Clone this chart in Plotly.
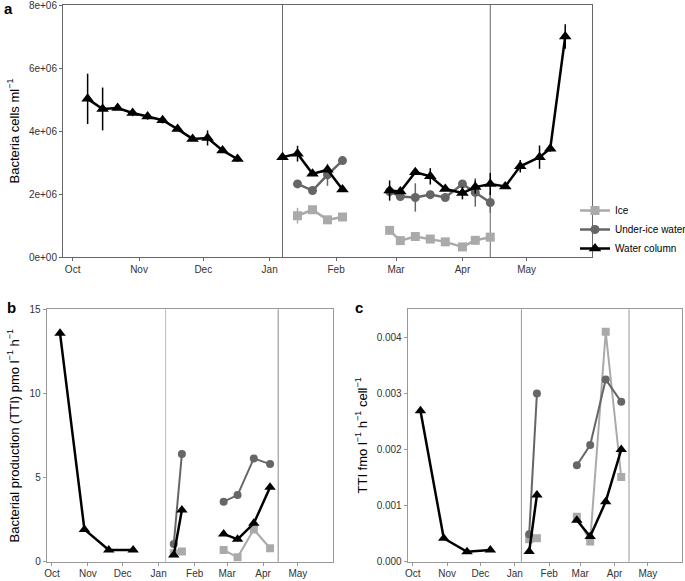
import plotly.graph_objects as go

# ---------------- Data ----------------
SERIES = ["Ice", "Under-ice water", "Water column"]

# Panel a: bacteria abundance (cells ml^-1)
a_wc_dates = ["2012-10-08", "2012-10-15", "2012-10-22", "2012-10-29", "2012-11-05", "2012-11-12",
              "2012-11-19", "2012-11-26", "2012-12-03", "2012-12-10", "2012-12-17",
              "2013-01-07", "2013-01-14", "2013-01-21", "2013-01-28", "2013-02-04",
              "2013-02-26", "2013-03-03", "2013-03-10", "2013-03-17", "2013-03-24", "2013-04-01",
              "2013-04-07", "2013-04-14", "2013-04-21", "2013-04-28", "2013-05-07", "2013-05-12",
              "2013-05-19"]
a_wc_vals = [5.02e6, 4.70e6, 4.73e6, 4.57e6, 4.46e6, 4.34e6, 4.06e6, 3.75e6, 3.78e6, 3.38e6, 3.11e6,
             3.17e6, 3.28e6, 2.64e6, 2.77e6, 2.14e6,
             2.11e6, 2.08e6, 2.69e6, 2.56e6, 2.16e6, 2.03e6, 2.22e6, 2.32e6, 2.24e6, 2.88e6,
             3.17e6, 3.44e6, 7.00e6]
a_wc_err = [0.80e6, 0.68e6, 0.06e6, 0.10e6, 0.10e6, 0.10e6, 0.06e6, 0.06e6, 0.24e6, 0.08e6, 0.08e6,
            0.05e6, 0.25e6, 0.05e6, 0.05e6, 0.05e6,
            0.32e6, 0.05e6, 0.05e6, 0.26e6, 0.05e6, 0.20e6, 0.21e6, 0.35e6, 0.05e6, 0.20e6,
            0.37e6, 0.10e6, 0.39e6]
a_wc_seg = [1] * 11 + [2] * 5 + [3] * 13

a_ui_dates = ["2013-01-14", "2013-01-21", "2013-01-28", "2013-02-04",
              "2013-02-26", "2013-03-03", "2013-03-10", "2013-03-17", "2013-03-24", "2013-04-01",
              "2013-04-07", "2013-04-14"]
a_ui_vals = [2.32e6, 2.11e6, 2.61e6, 3.06e6,
             2.08e6, 1.92e6, 1.89e6, 1.98e6, 1.89e6, 2.32e6, 2.05e6, 1.73e6]
a_ui_err = [0.08e6, 0.05e6, 0.35e6, 0.05e6,
            0.15e6, 0.05e6, 0.45e6, 0.05e6, 0.05e6, 0.08e6, 0.45e6, 0.32e6]
a_ui_seg = [2] * 4 + [3] * 8

a_ice_dates = a_ui_dates
a_ice_vals = [1.31e6, 1.50e6, 1.18e6, 1.27e6,
              0.845e6, 0.52e6, 0.65e6, 0.57e6, 0.48e6, 0.32e6, 0.53e6, 0.63e6]
a_ice_err = [0.25e6, 0.05e6, 0.05e6, 0.05e6,
             0.05e6, 0.05e6, 0.05e6, 0.05e6, 0.05e6, 0.05e6, 0.05e6, 0.05e6]
a_ice_seg = a_ui_seg

# Panel b: bacterial production (TTI) pmol l^-1 h^-1
b_wc_dates = ["2012-10-08", "2012-10-29", "2012-11-19", "2012-12-10",
              "2013-01-14", "2013-01-21",
              "2013-02-26", "2013-03-10", "2013-03-24", "2013-04-07"]
b_wc_vals = [13.57, 1.92, 0.70, 0.70, 0.40, 3.07, 1.65, 1.33, 2.28, 4.42]
b_wc_seg = [1, 1, 1, 1, 2, 2, 3, 3, 3, 3]

b_ui_dates = ["2013-01-14", "2013-01-21", "2013-02-26", "2013-03-10", "2013-03-24", "2013-04-07"]
b_ui_vals = [1.05, 6.40, 3.57, 3.96, 6.14, 5.80]
b_ui_seg = [2, 2, 3, 3, 3, 3]

b_ice_dates = b_ui_dates
b_ice_vals = [0.50, 0.60, 0.70, 0.26, 1.92, 0.80]
b_ice_seg = b_ui_seg

# Panel c: TTI fmol l^-1 h^-1 cell^-1
c_wc_dates = b_wc_dates
c_wc_vals = [0.00269, 0.000417, 0.000178, 0.000209, 0.00018, 0.00119, 0.00074, 0.00045, 0.00107, 0.00200]
c_wc_seg = b_wc_seg

c_ui_dates = b_ui_dates
c_ui_vals = [0.00049, 0.00300, 0.00172, 0.00208, 0.00325, 0.00285]
c_ui_seg = b_ui_seg

c_ice_dates = b_ui_dates
c_ice_vals = [0.00040, 0.00042, 0.00080, 0.00036, 0.00410, 0.00151]
c_ice_seg = b_ui_seg

# Reference dates (vertical lines)
vline_dates = ["2013-01-07", "2013-04-14"]

# Axis ticks
a_yticks = [0, 2e6, 4e6, 6e6, 8e6]
a_yticktext = ["0e+00", "2e+06", "4e+06", "6e+06", "8e+06"]
b_yticks = [0, 5, 10, 15]
c_yticks = [0, 0.001, 0.002, 0.003, 0.004]
c_yticktext = ["0.000", "0.001", "0.002", "0.003", "0.004"]

# ---------------- Styles ----------------
COLORS = {"Ice": "#aaaaaa", "Under-ice water": "#666666", "Water column": "#000000"}
SYMBOLS = {"Ice": "square", "Under-ice water": "circle", "Water column": "triangle-up"}
MSIZE = {"Ice": 9, "Under-ice water": 9, "Water column": 11}
W, H = 685, 581
FONT = "Liberation Sans, Arial, sans-serif"


def with_breaks(dates, vals, segs, errs=None):
    xs, ys, es = [], [], []
    for i, (d, v, s) in enumerate(zip(dates, vals, segs)):
        if i > 0 and s != segs[i - 1]:
            xs.append(None)
            ys.append(None)
            es.append(None)
        xs.append(d)
        ys.append(v)
        es.append(errs[i] if errs is not None else None)
    return xs, ys, es


fig = go.Figure()


def add_series(name, dates, vals, segs, xa, ya, errs=None, lw=2.5, showlegend=False, msize=None):
    xs, ys, es = with_breaks(dates, vals, segs, errs)
    kw = {}
    if errs is not None:
        kw["error_y"] = dict(type="data", array=es, symmetric=True, color=COLORS[name],
                             thickness=1.5, width=0)
    fig.add_trace(go.Scatter(
        x=xs, y=ys, mode="lines+markers", name=name, legendgroup=name,
        showlegend=showlegend, connectgaps=False, xaxis=xa, yaxis=ya,
        line=dict(color=COLORS[name], width=lw),
        marker=dict(symbol=SYMBOLS[name], color=COLORS[name], size=msize or MSIZE[name],
                    line=dict(width=0)),
        **kw))


# Panel a
add_series("Ice", a_ice_dates, a_ice_vals, a_ice_seg, "x", "y", a_ice_err, showlegend=True)
add_series("Under-ice water", a_ui_dates, a_ui_vals, a_ui_seg, "x", "y", a_ui_err, showlegend=True)
add_series("Water column", a_wc_dates, a_wc_vals, a_wc_seg, "x", "y", a_wc_err, showlegend=True)
# Panel b
add_series("Ice", b_ice_dates, b_ice_vals, b_ice_seg, "x2", "y2", lw=2, msize=8)
add_series("Under-ice water", b_ui_dates, b_ui_vals, b_ui_seg, "x2", "y2", lw=2, msize=8)
add_series("Water column", b_wc_dates, b_wc_vals, b_wc_seg, "x2", "y2", lw=2.5, msize=10)
# Panel c
add_series("Ice", c_ice_dates, c_ice_vals, c_ice_seg, "x3", "y3", lw=2, msize=8)
add_series("Under-ice water", c_ui_dates, c_ui_vals, c_ui_seg, "x3", "y3", lw=2, msize=8)
add_series("Water column", c_wc_dates, c_wc_vals, c_wc_seg, "x3", "y3", lw=2.5, msize=10)

XRANGE = ["2012-09-26 12:00", "2013-05-31 12:00"]


def xaxis(domain, anchor, lc, standoff=0):
    return dict(domain=domain, anchor=anchor, type="date", range=XRANGE, tickformat="%b",
                dtick="M1", tick0="2012-10-01", ticks="outside", ticklen=3, tickcolor=lc,
                showgrid=False, zeroline=False, showline=True, mirror=True, linecolor=lc,
                linewidth=1, ticklabelstandoff=standoff, ticklabeloverflow="allow",
                tickfont=dict(size=10, color="#333333", family=FONT))


def yaxis(domain, anchor, rng, tv, tt, lc):
    return dict(domain=domain, anchor=anchor, range=rng, tickvals=tv, ticktext=tt,
                ticks="outside", ticklen=3, tickcolor=lc, showgrid=False, zeroline=False,
                showline=True, mirror=True, linecolor=lc, linewidth=1,
                ticklabeloverflow="allow",
                tickfont=dict(size=10, color="#333333", family=FONT))


def px_x(a, b):
    return [a / W, b / W]


def px_y(top, bottom):
    return [1 - bottom / H, 1 - top / H]


fig.update_layout(
    width=W, height=H, margin=dict(l=0, r=0, t=0, b=0, autoexpand=False),
    paper_bgcolor="white", plot_bgcolor="white",
    font=dict(family=FONT, color="#000000"),
    xaxis=xaxis(px_x(63, 592), "y", "#666666"),
    yaxis=yaxis(px_y(5, 257), "x", [0, 8e6], a_yticks, a_yticktext, "#666666"),
    xaxis2=xaxis(px_x(46.7, 333.3), "y2", "#999999", -1),
    yaxis2=yaxis(px_y(309.3, 561.7), "x2", [0, 15], b_yticks, [str(v) for v in b_yticks], "#999999"),
    xaxis3=xaxis(px_x(407.7, 681.7), "y3", "#999999", -1),
    yaxis3=yaxis(px_y(309.3, 561.7), "x3", [0, 0.0045], c_yticks, c_yticktext, "#999999"),
    legend=dict(x=575 / W, y=1 - 196 / H, xanchor="left", yanchor="top",
                font=dict(size=10, family=FONT), itemwidth=30, bgcolor="rgba(0,0,0,0)",
                tracegroupgap=0),
    showlegend=True,
)

# Vertical reference lines
vcolors = {"x": ["#666666", "#666666"], "x2": ["#bbbbbb", "#888888"], "x3": ["#999999", "#999999"]}
yref_for = {"x": "y domain", "x2": "y2 domain", "x3": "y3 domain"}
for xa, cols in vcolors.items():
    for d, col in zip(vline_dates, cols):
        fig.add_shape(type="line", xref=xa, yref=yref_for[xa], x0=d, x1=d, y0=0, y1=1,
                      line=dict(color=col, width=1), layer="below")

# Axis titles and panel letters
ann = [
    dict(text="Bacteria cells ml<sup>−1</sup>", x=13.5 / W, y=1 - 131 / H, textangle=-90, size=13),
    dict(text="Bacterial production (TTI) pmo l<sup>−1</sup> h<sup>−1</sup>", x=13 / W,
         y=1 - 435.5 / H, textangle=-90, size=13),
    dict(text="TTI fmo l<sup>−1</sup> h<sup>−1</sup> cell<sup>−1</sup>", x=361 / W,
         y=1 - 435.5 / H, textangle=-90, size=13),
]
for a in ann:
    fig.add_annotation(text=a["text"], xref="paper", yref="paper", x=a["x"], y=a["y"],
                       textangle=a["textangle"], showarrow=False, xanchor="center", yanchor="middle",
                       font=dict(size=a["size"], family=FONT, color="#000000"))

for letter, x, y in [("a", 8.5, 8), ("b", 11, 307), ("c", 359, 307)]:
    fig.add_annotation(text="<b>" + letter + "</b>", xref="paper", yref="paper", x=x / W, y=1 - y / H,
                       showarrow=False, xanchor="center", yanchor="middle",
                       font=dict(size=15, family=FONT, color="#000000"))

fig.write_html("out.html", config={"displayModeBar": False},
               post_script="document.body.style.margin='0';document.body.style.overflow='hidden';")
